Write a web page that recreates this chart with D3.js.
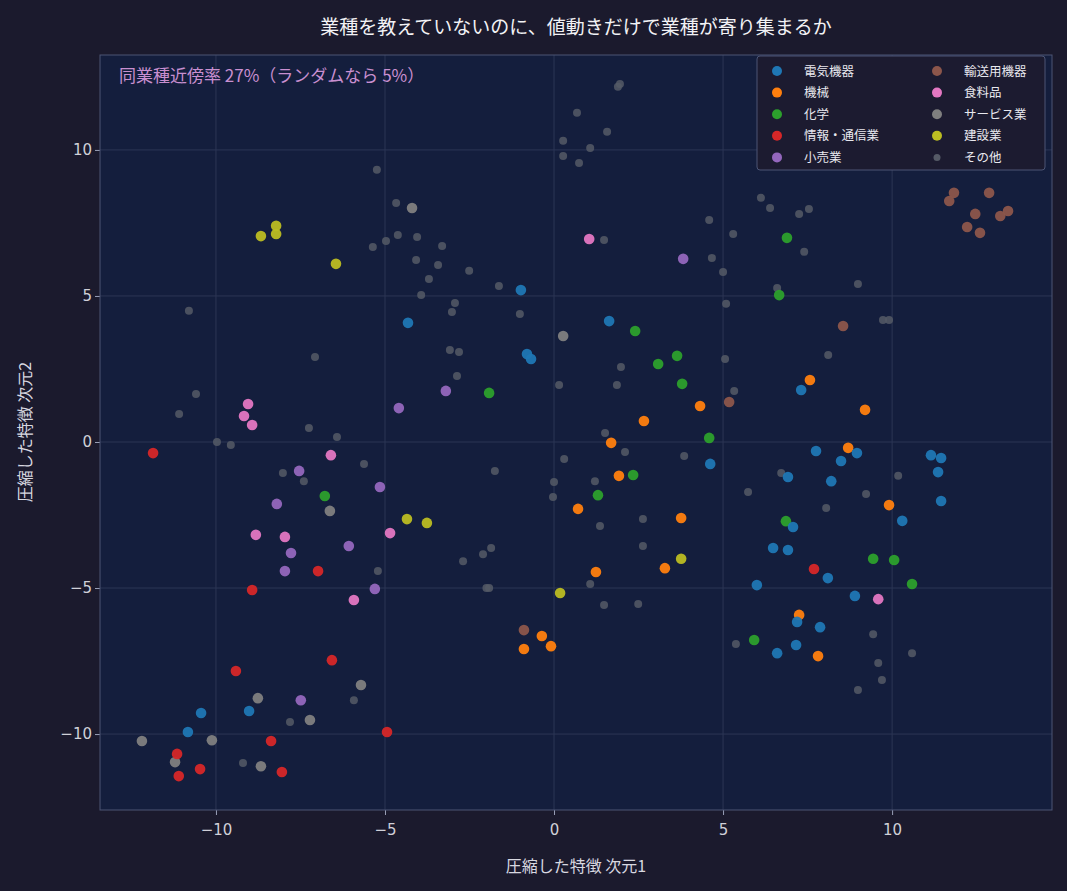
<!DOCTYPE html>
<html><head><meta charset="utf-8">
<script src="https://cdn.jsdelivr.net/npm/d3@7"></script>
<style>body{margin:0;background:#1b1a2d;}svg{display:block;font-family:"Noto Sans CJK JP","Noto Sans",sans-serif;}</style>
</head><body><svg id="c" width="1067" height="891"></svg>
<script>
const categories = ["電気機器","機械","化学","情報・通信業","小売業","輸送用機器","食料品","サービス業","建設業","その他"];
const colors = ["#1f77b4","#ff7f0e","#2ca02c","#d62728","#9467bd","#8c564b","#e377c2","#7f7f7f","#bcbd22","#555a66"];
const xTicks = [-10,-5,0,5,10];
const yTicks = [-10,-5,0,5,10];
const s0 = [[-0.98,5.2],[-4.32,4.08],[-0.8,3.01],[-0.68,2.84],[1.63,4.14],[7.31,1.78],[11.15,-0.45],[11.45,-0.55],[11.36,-1.03],[11.45,-2.02],[10.3,-2.7],[7.75,-0.31],[8.96,-0.38],[8.49,-0.65],[6.92,-1.2],[8.2,-1.34],[4.62,-0.75],[7.07,-2.91],[6.48,-3.63],[6.92,-3.7],[8.1,-4.66],[6.0,-4.9],[8.9,-5.27],[7.19,-6.16],[7.16,-6.95],[7.87,-6.34],[6.6,-7.23],[-10.44,-9.28],[-10.83,-9.93],[-9.02,-9.21]];
const s1 = [[7.57,2.12],[9.2,1.1],[4.32,1.23],[2.66,0.72],[1.69,-0.03],[8.7,-0.2],[9.91,-2.16],[1.92,-1.16],[3.76,-2.6],[0.71,-2.29],[1.24,-4.45],[3.28,-4.32],[7.25,-5.92],[7.81,-7.33],[-0.36,-6.64],[-0.89,-7.09],[-0.09,-6.99]];
const s2 = [[6.89,6.99],[6.66,5.03],[2.4,3.8],[3.64,2.95],[3.08,2.67],[3.79,1.99],[-1.92,1.68],[4.59,0.14],[2.34,-1.13],[1.3,-1.82],[-6.78,-1.85],[6.86,-2.71],[9.44,-4.0],[10.06,-4.04],[10.59,-4.86],[5.92,-6.78]];
const s3 = [[-11.86,-0.38],[-8.93,-5.07],[-6.98,-4.42],[-6.57,-7.47],[-9.41,-7.84],[-8.37,-10.24],[-11.15,-10.68],[-11.1,-11.44],[-10.47,-11.2],[-8.05,-11.3],[-4.94,-9.93],[7.69,-4.35]];
const s4 = [[3.82,6.27],[-3.2,1.75],[-4.59,1.16],[-7.54,-0.99],[-8.2,-2.12],[-5.15,-1.54],[-7.78,-3.8],[-7.96,-4.42],[-6.07,-3.56],[-5.3,-5.03],[-7.49,-8.84]];
const s5 = [[11.83,8.53],[11.69,8.25],[12.87,8.53],[12.46,7.81],[13.43,7.91],[13.2,7.74],[12.22,7.36],[12.6,7.16],[8.55,3.97],[5.18,1.37],[-0.89,-6.44]];
const s6 = [[1.04,6.95],[-9.05,1.3],[-9.17,0.89],[-8.93,0.58],[-6.6,-0.45],[-8.82,-3.18],[-7.96,-3.25],[-4.85,-3.12],[-5.92,-5.41],[9.59,-5.38]];
const s7 = [[-4.2,8.01],[0.27,3.63],[-6.63,-2.36],[-5.71,-8.32],[-8.76,-8.77],[-7.22,-9.52],[-10.12,-10.21],[-12.19,-10.24],[-11.21,-10.96],[-8.67,-11.1]];
const s8 = [[-8.67,7.05],[-8.22,7.4],[-8.22,7.12],[-6.45,6.1],[-4.35,-2.64],[-3.76,-2.77],[3.76,-4.0],[0.18,-5.17]];
const s9 = [[0.68,11.27],[0.27,10.31],[0.27,9.79],[0.74,9.55],[-5.24,9.32],[-4.67,8.18],[-4.62,7.09],[-4.05,7.02],[-4.97,6.88],[-5.36,6.68],[-3.31,6.71],[-4.08,6.23],[-3.43,6.06],[-3.7,5.58],[-2.51,5.86],[-1.63,5.34],[-3.93,5.03],[-2.93,4.76],[-3.02,4.45],[-10.8,4.49],[-1.01,4.38],[-7.07,2.91],[-3.08,3.15],[-2.81,3.08],[-2.87,2.26],[0.15,1.95],[-10.59,1.64],[-11.09,0.96],[-7.25,0.48],[1.95,12.26],[1.89,12.16],[1.57,10.62],[1.07,10.07],[6.12,8.36],[6.39,8.01],[7.25,7.81],[7.54,7.98],[4.59,7.6],[5.3,7.12],[1.48,6.92],[4.67,6.3],[5.0,5.82],[7.4,6.51],[8.99,5.41],[6.6,5.27],[5.09,4.73],[9.73,4.18],[9.91,4.18],[1.98,2.57],[1.86,1.95],[5.06,2.84],[5.33,1.75],[8.11,2.98],[1.51,0.31],[-9.97,0.0],[-9.56,-0.1],[-6.42,0.17],[-5.62,-0.75],[-8.02,-1.06],[-7.4,-1.34],[-5.21,-4.42],[-1.75,-0.99],[0.3,-0.58],[0.0,-1.37],[-0.03,-1.88],[-1.86,-3.63],[-2.1,-3.84],[-2.69,-4.08],[-1.92,-5.0],[-2.0,-5.0],[-5.92,-8.84],[-7.81,-9.59],[-9.2,-10.99],[2.1,-0.34],[3.85,-0.48],[1.21,-1.34],[5.74,-1.71],[6.72,-1.06],[8.05,-2.26],[9.23,-1.78],[10.18,-1.16],[2.63,-2.64],[1.36,-2.88],[2.63,-3.56],[1.07,-4.86],[1.48,-5.58],[2.49,-5.55],[5.38,-6.92],[9.44,-6.58],[10.59,-7.23],[9.59,-7.57],[9.7,-8.15],[8.99,-8.49]];
const series = [s0,s1,s2,s3,s4,s5,s6,s7,s8,s9];

const svg = d3.select("#c");
const L=100,R=1052,T=55,B=810;
const x = d3.scaleLinear().domain([-13.43,14.73]).range([L,R]);
const y = d3.scaleLinear().domain([13.25,-12.6]).range([T,B]);
svg.append("rect").attr("width",1067).attr("height",891).attr("fill","#1b1a2d");
svg.append("rect").attr("x",L).attr("y",T).attr("width",R-L).attr("height",B-T).attr("fill","#141e3d");
const fmt = d=> d<0 ? "−"+Math.abs(d) : ""+d;
const g = svg.append("g");
xTicks.forEach(t=>g.append("line").attr("x1",x(t)).attr("x2",x(t)).attr("y1",T).attr("y2",B).attr("stroke","#2c3655").attr("stroke-width",1));
yTicks.forEach(t=>g.append("line").attr("y1",y(t)).attr("y2",y(t)).attr("x1",L).attr("x2",R).attr("stroke","#2c3655").attr("stroke-width",1));
const xa = svg.append("g").attr("transform",`translate(0,${B})`).call(d3.axisBottom(x).tickValues(xTicks).tickFormat(fmt).tickSize(5));
const ya = svg.append("g").attr("transform",`translate(${L},0)`).call(d3.axisLeft(y).tickValues(yTicks).tickFormat(fmt).tickSize(5));
[xa,ya].forEach(a=>{a.select(".domain").remove();a.selectAll("line").attr("stroke","#9aa0b8");a.selectAll("text").attr("fill","#d0d0d8").attr("font-size",15).attr("font-family","DejaVu Sans, sans-serif");});
xa.selectAll("text").attr("dy","1.1em");
svg.append("rect").attr("x",L).attr("y",T).attr("width",R-L).attr("height",B-T).attr("fill","none").attr("stroke","#4c5575");

// points: other first
series.forEach((s,i)=>{
  const k = 9-i;
  const data = series[k];
  svg.append("g").selectAll("circle").data(data).join("circle")
    .attr("cx",d=>x(d[0])).attr("cy",d=>y(d[1]))
    .attr("r",k===9?4:5.3).attr("fill",colors[k]).attr("opacity",k===9?0.85:0.95);
});

svg.append("text").attr("x",576).attr("y",34).attr("text-anchor","middle").attr("fill","#f2f2f5").attr("font-size",19).text("業種を教えていないのに、値動きだけで業種が寄り集まるか");
svg.append("text").attr("x",576).attr("y",872).attr("text-anchor","middle").attr("fill","#d8d8e0").attr("font-size",16).text("圧縮した特徴 次元1");
svg.append("text").attr("transform","translate(31,432) rotate(-90)").attr("text-anchor","middle").attr("fill","#d8d8e0").attr("font-size",16).text("圧縮した特徴 次元2");
svg.append("text").attr("x",119).attr("y",82).attr("fill","#c98fd0").attr("font-size",17).text("同業種近傍率 27%（ランダムなら 5%）");

// legend
const lg = svg.append("g");
lg.append("rect").attr("x",757).attr("y",56).attr("width",288).attr("height",114).attr("rx",3).attr("fill","#1c1b30").attr("stroke","#4c5575");
categories.forEach((c,i)=>{
  const col = Math.floor(i/5), row = i%5;
  const cx = 777+col*160, cy = 71+row*21.6;
  lg.append("circle").attr("cx",cx).attr("cy",cy).attr("r",i===9?3.5:5).attr("fill",colors[i]);
  lg.append("text").attr("x",cx+27).attr("y",cy+4.5).attr("fill","#e8e8ee").attr("font-size",12.5).text(c);
});
</script></body></html>
